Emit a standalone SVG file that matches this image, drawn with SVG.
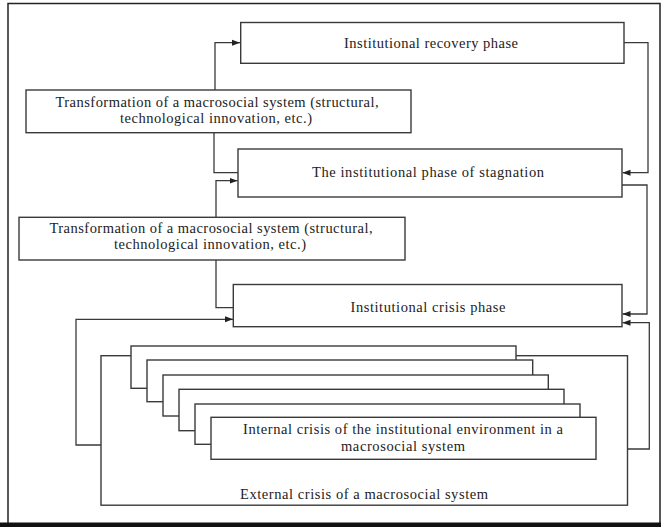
<svg xmlns="http://www.w3.org/2000/svg" width="661" height="527" viewBox="0 0 661 527">
<defs>
<style>
.box{fill:#fff;stroke:#3a3a3a;stroke-width:1.4}
.ln{fill:none;stroke:#3a3a3a;stroke-width:1.3}
.t{font-family:"Liberation Serif","Times New Roman",serif;font-size:14.5px;fill:#222;text-anchor:middle}
</style>
<marker id="ah" markerUnits="userSpaceOnUse" markerWidth="8" markerHeight="8" viewBox="0 0 8 8" refX="8" refY="4" orient="auto">
<path d="M0,1 L8,4 L0,7 Z" fill="#222"/>
</marker>
</defs>
<rect x="0" y="0" width="661" height="527" fill="#fff"/>
<g id="frame">
<path d="M8,523 L8,3.5 L660,3.5 L660,523" fill="none" stroke="#222" stroke-width="1.5"/>
<rect x="0" y="522.5" width="661" height="4.5" fill="#111"/>
</g>
<g id="connectors">
<path class="ln" d="M215,90 V42.7 H240" marker-end="url(#ah)"/>
<path class="ln" d="M214,132.7 V172.7 H238"/>
<path class="ln" d="M216,217.3 V180.7 H237.5" marker-end="url(#ah)"/>
<path class="ln" d="M216,260 V307.7 H233.3"/>
<path class="ln" d="M624,42.7 H648 V172.7 H622.5" marker-end="url(#ah)"/>
<path class="ln" d="M622,185 H647 V314 H622.5" marker-end="url(#ah)"/>
<path class="ln" d="M627.5,449 H649.3 V322.7 H622.5" marker-end="url(#ah)"/>
<path class="ln" d="M101,445 H76 V319.3 H233" marker-end="url(#ah)"/>
</g>
<g id="recovery">
<rect class="box" x="240.7" y="22.5" width="383.3" height="40.8"/>
<text class="t" x="431" y="48" textLength="174" lengthAdjust="spacing">Institutional recovery phase</text>
</g>
<g id="transformation1">
<rect class="box" x="26" y="90" width="385" height="42.7"/>
<text class="t" x="217" y="107" textLength="323" lengthAdjust="spacing">Transformation of a macrosocial system (structural,</text>
<text class="t" x="216" y="122.5" textLength="192" lengthAdjust="spacing">technological innovation, etc.)</text>
</g>
<g id="stagnation">
<rect class="box" x="238" y="149" width="384" height="48"/>
<text class="t" x="428" y="177" textLength="232" lengthAdjust="spacing">The institutional phase of stagnation</text>
</g>
<g id="transformation2">
<rect class="box" x="19" y="217.3" width="386" height="42.7"/>
<text class="t" x="211" y="233" textLength="323" lengthAdjust="spacing">Transformation of a macrosocial system (structural,</text>
<text class="t" x="210" y="249" textLength="192" lengthAdjust="spacing">technological innovation, etc.)</text>
</g>
<g id="crisis">
<rect class="box" x="233.3" y="284.5" width="388.7" height="42.2"/>
<text class="t" x="428" y="311.5" textLength="155" lengthAdjust="spacing">Institutional crisis phase</text>
</g>
<g id="external">
<rect class="box" x="101" y="355.7" width="526.5" height="149.5"/>
<text class="t" x="364" y="499" textLength="248" lengthAdjust="spacing">External crisis of a macrosocial system</text>
</g>
<g id="internal">
<rect class="box" x="131" y="346" width="385" height="42.3"/>
<rect class="box" x="147" y="360" width="385.7" height="41.7"/>
<rect class="box" x="163" y="375" width="385.3" height="41"/>
<rect class="box" x="179" y="389.3" width="385" height="41.4"/>
<rect class="box" x="195" y="404" width="385" height="40.3"/>
<rect class="box" x="211" y="417.3" width="385" height="42"/>
<text class="t" x="403" y="434" textLength="320" lengthAdjust="spacing">Internal crisis of the institutional environment in a</text>
<text class="t" x="403" y="451" textLength="124" lengthAdjust="spacing">macrosocial system</text>
</g>
</svg>
